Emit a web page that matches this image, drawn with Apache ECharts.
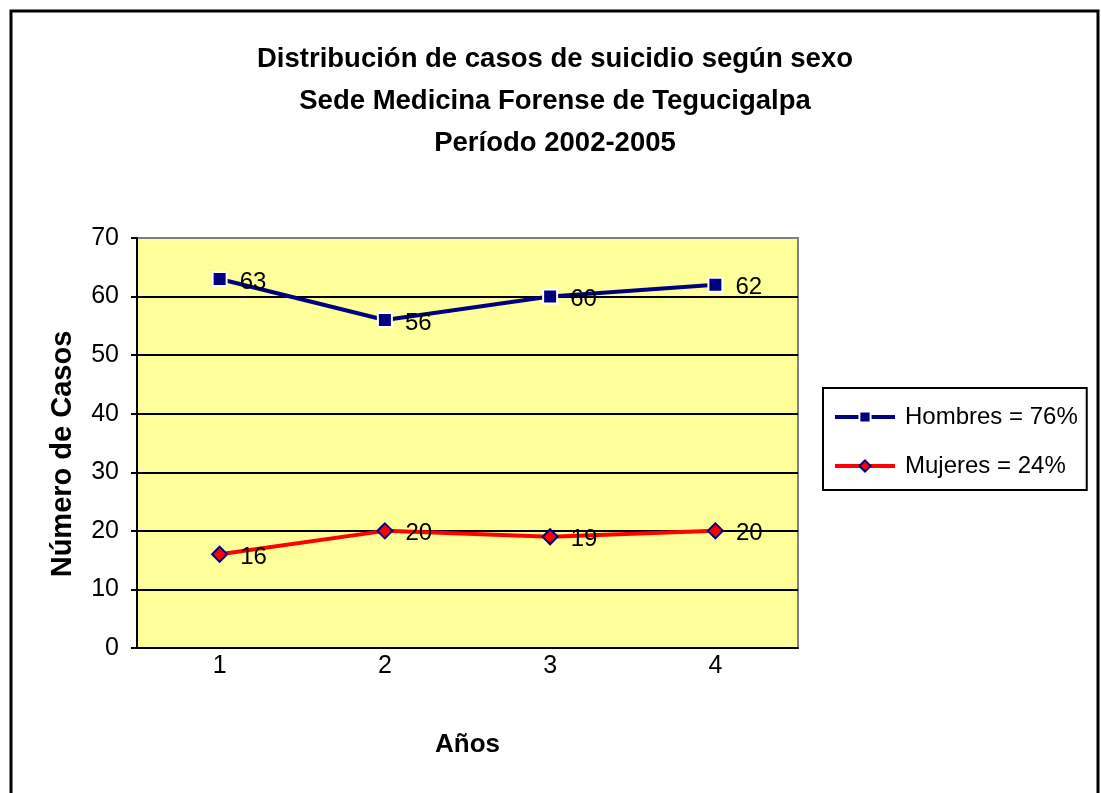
<!DOCTYPE html>
<html>
<head>
<meta charset="utf-8">
<script src="https://cdn.jsdelivr.net/npm/echarts@6/dist/echarts.min.js"></script>
<style>
  html, body { margin: 0; padding: 0; background: #fff; }
  #main { width: 1101px; height: 793px; }
</style>
</head>
<body>
<div id="main"></div>
<script>
// datos del gráfico
const years = ['1', '2', '3', '4'];
const hombres = [63, 56, 60, 62];
const mujeres = [16, 20, 19, 20];
const seriesNames = ['Hombres = 76%', 'Mujeres = 24%'];

const font = '"Liberation Sans", Arial, sans-serif';
const chart = echarts.init(document.getElementById('main'));

const labelStyle = {
  show: true, position: 'right', distance: 12, offset: [0, 3],
  fontFamily: font, fontSize: 24, color: '#000'
};

const option = {
  animation: false,
  textStyle: { fontFamily: font },
  title: {
    text: 'Distribución de casos de suicidio según sexo\nSede Medicina Forense de Tegucigalpa\nPeríodo 2002-2005',
    left: 550,
    textAlign: 'center',
    top: 33,
    textStyle: { fontFamily: font, fontSize: 27.5, fontWeight: 'bold', color: '#000', lineHeight: 42 }
  },
  graphic: [{
    type: 'rect',
    shape: { x: 11, y: 11, width: 1087, height: 900 },
    style: { fill: 'none', stroke: '#000', lineWidth: 3 },
    silent: true
  }],
  legend: {
    orient: 'vertical',
    left: 823,
    top: 388,
    padding: [17, 9, 12, 10],
    itemGap: 25,
    itemWidth: 60,
    itemHeight: 14,
    borderColor: '#000',
    borderWidth: 2,
    lineStyle: { width: 4 },
    textStyle: { fontFamily: font, fontSize: 24, color: '#000', padding: [0, 0, 0, 5] },
    data: seriesNames
  },
  grid: {
    left: 137, top: 238, width: 661, height: 410,
    show: true,
    backgroundColor: '#FFFF99',
    borderColor: '#808080',
    borderWidth: 2
  },
  xAxis: {
    type: 'category',
    data: years,
    boundaryGap: true,
    name: 'Años',
    nameLocation: 'middle',
    nameGap: 84,
    nameTextStyle: { fontFamily: font, fontSize: 26, fontWeight: 'bold', color: '#000' },
    axisLine: { lineStyle: { color: '#000', width: 2 } },
    axisTick: { length: 7, lineStyle: { color: '#000', width: 2 } },
    axisLabel: { fontFamily: font, fontSize: 25, color: '#000', margin: 6 }
  },
  yAxis: {
    type: 'value',
    min: 0, max: 70, interval: 10,
    name: 'Número de Casos',
    nameLocation: 'middle',
    nameGap: 60,
    nameTextStyle: { fontFamily: font, fontSize: 29, fontWeight: 'bold', color: '#000', padding: [0, 22, 0, 0] },
    axisLine: { show: true, lineStyle: { color: '#000', width: 2 } },
    axisTick: { show: true, length: 6, lineStyle: { color: '#000', width: 2 } },
    axisLabel: { fontFamily: font, fontSize: 25, color: '#000', margin: 18 },
    splitLine: { lineStyle: { color: ['#000', '#000', '#000', '#000', '#000', '#000', '#000', '#808080'], width: 2 } }
  },
  series: [
    {
      name: seriesNames[0],
      type: 'line',
      data: hombres,
      symbol: 'rect',
      symbolSize: 14,
      lineStyle: { color: '#000080', width: 4 },
      itemStyle: { color: '#000080', borderColor: '#fff', borderWidth: 2 },
      label: labelStyle
    },
    {
      name: seriesNames[1],
      type: 'line',
      data: mujeres,
      symbol: 'diamond',
      symbolSize: 15,
      lineStyle: { color: '#FF0000', width: 4 },
      itemStyle: { color: '#FF0000', borderColor: '#000080', borderWidth: 2 },
      label: labelStyle
    }
  ]
};

chart.setOption(option);
</script>
</body>
</html>
